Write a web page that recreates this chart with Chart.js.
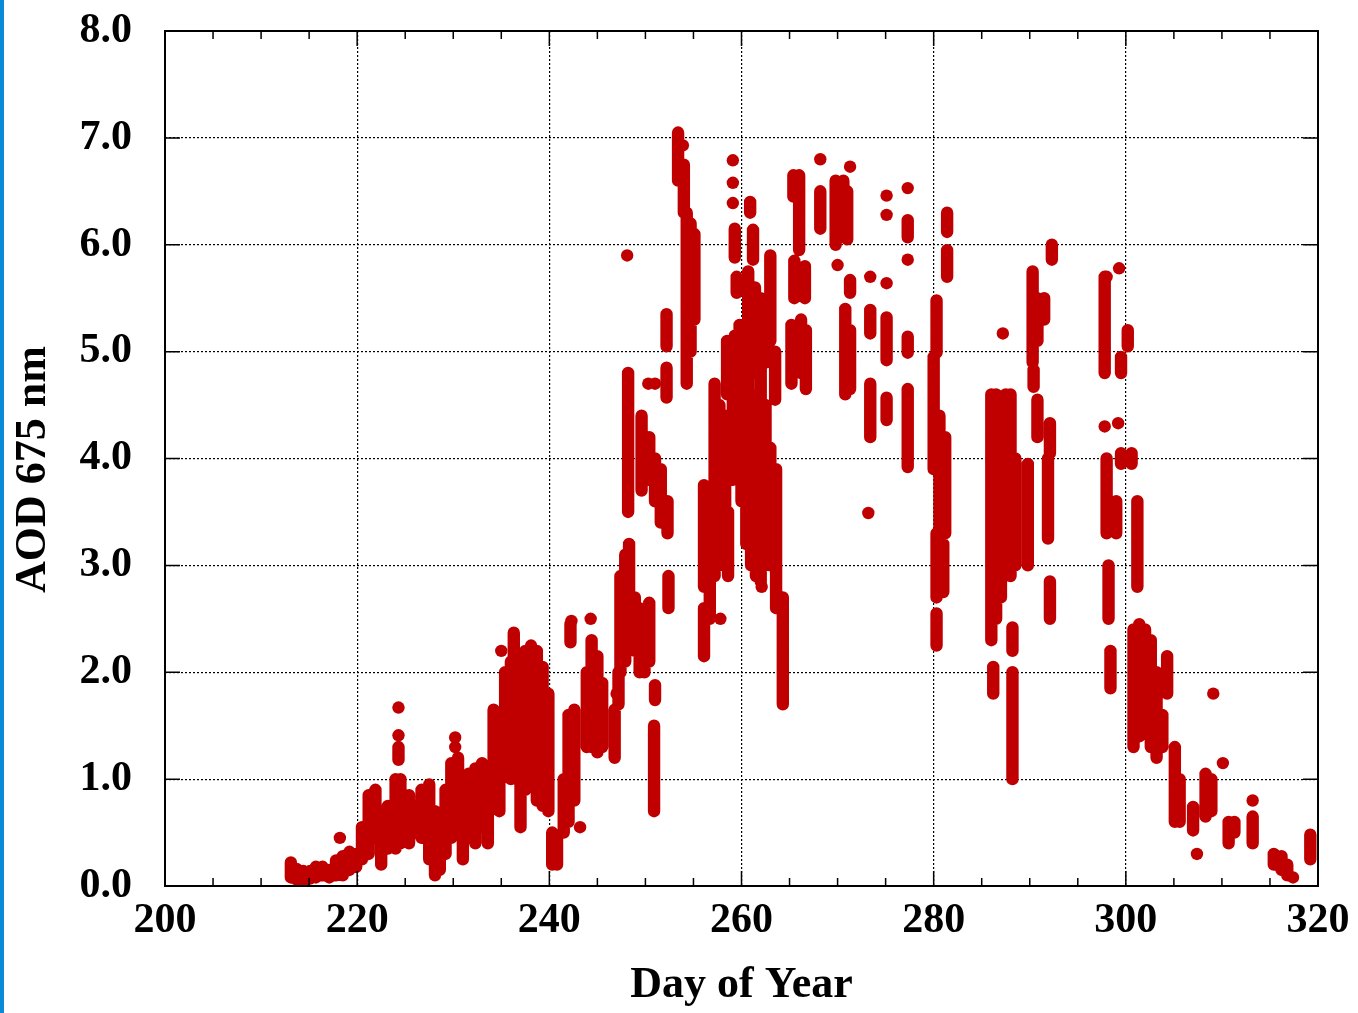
<!DOCTYPE html>
<html>
<head>
<meta charset="utf-8">
<script src="https://cdn.jsdelivr.net/npm/chart.js@4.4.1/dist/chart.umd.min.js"></script>
<style>
    body { margin: 0; background: #fff; }
    #wrap { position: relative; width: 1358px; height: 1013px; }
    #edge { position: absolute; left: 0; top: 0; width: 4px; height: 1013px; background: #0a8ad8; }
</style>
</head>
<body>
<div id="wrap">
    <canvas id="aodChart"></canvas>
    <div id="edge"></div>
</div>
<script>
'use strict'

// vertical runs of dense measurements: day, lowest AOD, highest AOD
const streakDay = [
    213.1, 213.7, 214.4, 215.1, 215.7, 216.4, 217.1, 217.8, 218.5, 219.2, 219.9,
    220.5, 221.2, 221.9, 222.5, 223.2, 224.0, 224.5, 224.3, 225.4, 226.0, 226.7, 227.5,
    228.1, 228.6, 229.2, 229.8, 230.5, 231.0, 231.6, 232.3, 233.0, 233.6,
    234.2, 234.8, 235.4, 236.0, 236.3, 237.0, 237.5, 238.1, 238.7, 239.3, 239.9, 240.3, 240.8,
    241.5, 242.0, 242.6, 242.2, 243.9, 244.4, 245.0, 245.5, 246.8, 247.2,
    247.4, 247.9, 248.2, 248.3, 248.9, 249.4, 249.9, 250.4, 249.6, 250.4, 251.0, 251.6,
    252.3, 252.4, 252.2, 250.9, 251.0, 252.2,
    253.4, 254.0, 254.3, 254.7, 255.1,
    256.1, 256.1, 256.7, 257.2, 257.7, 258.3, 258.6, 259.1, 259.3, 259.5, 258.5, 259.3, 259.8,
    260.0, 260.5, 261.0, 261.5, 262.0, 262.5, 263.0, 263.6, 264.3,
    260.9, 261.2, 260.7, 261.4, 262.0, 262.6, 263.0, 263.5,
    265.4, 266.0, 265.5, 266.6, 265.2, 266.2, 266.7, 268.2, 269.8, 270.2, 270.6, 271.0,
    271.3, 270.8, 271.3,
    273.4, 273.4, 275.1, 275.1, 277.3, 277.3, 277.3,
    281.4, 281.4, 280.3, 280.0, 280.6, 281.2, 280.3, 281.0, 280.3,
    286.0, 286.5, 287.0, 287.5, 288.0, 288.5, 286.2, 288.2, 288.2, 289.8, 290.3, 290.8,
    291.5, 292.3, 290.4, 290.8, 292.1, 291.9, 292.1,
    297.8, 298.0, 298.2, 298.4, 299.0, 299.5, 300.2, 299.5, 300.6, 301.2, 300.8, 301.4,
    302.0, 302.6, 303.2, 303.8, 304.3, 305.1, 305.6, 307.0, 308.3, 308.9, 310.7, 311.3,
    313.2, 315.4, 316.2, 316.8, 319.2
];
const streakLow = [
    0.08, 0.06, 0.04, 0.07, 0.08, 0.10, 0.08, 0.10, 0.10, 0.15, 0.18,
    0.25, 0.30, 0.45, 0.20, 0.35, 0.35, 0.40, 1.18, 0.40, 0.50, 0.45, 0.25,
    0.10, 0.15, 0.30, 0.45, 0.55, 0.25, 0.45, 0.40, 0.55, 0.40,
    0.80, 0.70, 1.10, 1.00, 1.30, 0.55, 0.90, 1.00, 0.80, 0.75, 0.70, 0.20, 0.20,
    0.50, 0.60, 0.80, 2.28, 1.30, 1.30, 1.25, 1.30, 1.20, 1.70,
    2.00, 2.10, 3.50, 2.50, 2.20, 2.00, 2.00, 2.10, 3.70, 3.80, 3.60, 3.40,
    3.30, 2.60, 5.05, 0.70, 1.74, 4.57,
    6.60, 6.30, 4.70, 5.00, 5.30,
    2.15, 2.80, 2.50, 2.90, 3.00, 3.10, 2.90, 3.80, 5.88, 5.55, 4.60, 4.55, 4.70,
    3.60, 3.20, 3.00, 2.90, 2.85, 3.00, 3.00, 2.60, 1.70,
    6.30, 5.86, 4.60, 4.80, 4.60, 4.90, 5.10, 4.55,
    6.45, 5.95, 5.50, 5.50, 4.70, 4.80, 4.65, 6.15, 6.00, 6.10, 6.20, 6.05,
    5.55, 4.60, 4.65,
    5.17, 4.20, 4.92, 4.36, 6.07, 4.99, 3.92,
    6.12, 5.70, 4.99, 3.90, 3.30, 3.30, 2.70, 2.75, 2.25,
    2.30, 2.50, 2.70, 3.00, 2.90, 3.00, 1.80, 2.20, 1.00, 3.00, 4.90, 5.10,
    5.30, 5.86, 4.67, 4.20, 4.05, 3.25, 2.50,
    4.80, 3.30, 2.50, 1.85, 3.30, 3.95, 5.05, 4.80, 3.95, 2.80, 1.30, 1.40,
    1.50, 1.30, 1.20, 1.30, 1.80, 0.60, 0.60, 0.52, 0.65, 0.70, 0.40, 0.50,
    0.40, 0.20, 0.15, 0.10, 0.25
];
const streakHigh = [
    0.22, 0.16, 0.14, 0.14, 0.18, 0.18, 0.15, 0.24, 0.28, 0.32, 0.30,
    0.55, 0.85, 0.90, 0.70, 0.75, 1.00, 1.00, 1.30, 0.85, 0.75, 0.90, 0.95,
    0.70, 0.50, 0.90, 1.15, 1.20, 0.65, 1.05, 1.10, 1.15, 0.90,
    1.65, 1.55, 2.00, 2.10, 2.37, 2.00, 2.20, 2.25, 2.20, 2.05, 1.80, 0.50, 0.45,
    1.00, 1.60, 1.65, 2.45, 2.00, 2.30, 2.15, 1.90, 1.65, 2.00,
    2.90, 3.10, 4.80, 3.20, 2.70, 2.60, 2.50, 2.65, 4.40, 4.20, 4.00, 3.90,
    3.60, 2.90, 5.35, 1.50, 1.88, 4.85,
    7.05, 6.75, 6.30, 6.20, 6.10,
    2.60, 3.75, 3.50, 4.70, 4.50, 4.40, 3.50, 4.60, 6.15, 5.70, 5.10, 5.15, 5.25,
    4.70, 4.70, 4.60, 4.55, 4.60, 4.50, 4.10, 3.90, 2.70,
    6.40, 6.14, 5.75, 5.60, 5.50, 5.20, 5.90, 5.00,
    6.65, 6.65, 5.85, 5.80, 5.25, 5.30, 5.20, 6.50, 6.60, 6.55, 6.60, 6.50,
    5.67, 5.40, 5.20,
    5.39, 4.70, 5.32, 4.57, 6.23, 5.14, 4.65,
    6.30, 5.95, 5.48, 4.95, 4.40, 4.20, 3.30, 3.20, 2.55,
    4.60, 4.60, 4.50, 4.60, 4.60, 4.00, 2.05, 2.42, 2.00, 3.95, 5.75, 5.50,
    5.50, 6.00, 4.83, 4.55, 4.33, 4.00, 2.85,
    5.70, 4.00, 3.00, 2.20, 3.60, 4.05, 5.20, 4.95, 4.05, 3.60, 2.40, 2.45,
    2.40, 2.30, 2.00, 1.60, 2.15, 1.30, 1.00, 0.74, 1.05, 1.00, 0.60, 0.60,
    0.65, 0.30, 0.28, 0.20, 0.48
];

// isolated measurements
const dotDay = [
    218.2, 224.3, 224.3, 230.2, 230.2, 235.0, 242.3, 243.2, 244.3, 247.0,
    248.1, 250.3, 251.0, 253.9, 257.8, 259.1, 259.1, 259.1, 262.1, 268.2,
    271.3, 270.0, 273.4, 273.2, 275.1, 275.1, 275.1, 277.3, 277.3, 287.2,
    297.8, 299.3, 298.0, 299.2, 307.4, 309.1, 310.1, 313.2, 317.4
];
const dotAod = [
    0.45, 1.67, 1.41, 1.39, 1.30, 2.20, 2.48, 0.55, 2.50, 1.80,
    5.90, 4.70, 4.70, 6.93, 2.50, 6.79, 6.58, 6.39, 2.80, 6.80,
    6.73, 5.81, 5.70, 3.49, 6.46, 6.28, 5.64, 6.53, 5.86, 5.17,
    4.30, 5.78, 5.70, 4.33, 0.30, 1.80, 1.15, 0.80, 0.08
];

const xTickValues = [200, 220, 240, 260, 280, 300, 320];
const yTickValues = [0, 1, 2, 3, 4, 5, 6, 7, 8];

const red = 'rgb(192, 0, 0)';
const serif = 'Liberation Serif';

document.addEventListener("DOMContentLoaded", () => {
    const canvas = document.getElementById("aodChart");

    const streakPoints = [];
    streakDay.forEach((d, i) => {
        streakPoints.push({x: d, y: streakLow[i]});
        streakPoints.push({x: d, y: streakHigh[i]});
        streakPoints.push({x: d, y: null});
    });
    const dotPoints = dotDay.map((d, i) => ({x: d, y: dotAod[i]}));

    // frame round the plot plus inward tick marks on all four sides
    const frameTicks = {
        id: 'frameTicks',
        afterDatasetsDraw(chart) {
            const {ctx, chartArea: a, scales: {x, y}} = chart;
            ctx.save();
            ctx.strokeStyle = '#000';
            ctx.lineWidth = 1.5;
            ctx.beginPath();
            for (let d = xTickValues[0]; d <= xTickValues[xTickValues.length - 1]; d += 5) {
                const px = x.getPixelForValue(d);
                const len = xTickValues.includes(d) ? 15 : 8;
                ctx.moveTo(px, a.bottom); ctx.lineTo(px, a.bottom - len);
                ctx.moveTo(px, a.top); ctx.lineTo(px, a.top + len);
            }
            yTickValues.forEach(v => {
                const py = y.getPixelForValue(v);
                ctx.moveTo(a.left, py); ctx.lineTo(a.left + 15, py);
                ctx.moveTo(a.right, py); ctx.lineTo(a.right - 15, py);
            });
            ctx.stroke();
            ctx.lineWidth = 2;
            ctx.strokeRect(a.left, a.top, a.right - a.left, a.bottom - a.top);
            ctx.restore();
        }
    };

    new Chart(canvas, {
        type: 'scatter',
        data: {
            datasets: [{
                data: streakPoints,
                showLine: true,
                spanGaps: false,
                borderColor: red,
                borderWidth: 12.4,
                borderCapStyle: 'round',
                borderJoinStyle: 'round',
                pointRadius: 0,
                pointHitRadius: 0
            }, {
                data: dotPoints,
                backgroundColor: red,
                borderWidth: 0,
                pointRadius: 6.2
            }]
        },
        options: {
            responsive: true,
            maintainAspectRatio: false,
            animation: false,
            layout: {padding: {left: 0, right: 40, top: 31, bottom: 0}},
            plugins: {legend: {display: false}, tooltip: {enabled: false}},
            scales: {
                x: {
                    type: 'linear',
                    min: 200,
                    max: 320,
                    afterBuildTicks: s => { s.ticks = xTickValues.map(v => ({value: v})); },
                    afterFit: s => {
                        s.height = 127;
                        s.paddingLeft = 0;
                        s.paddingRight = 0;
                    },
                    grid: {color: '#000', lineWidth: 1.2, drawTicks: false},
                    border: {display: false, dash: [2, 2]},
                    ticks: {
                        color: '#000',
                        padding: 10,
                        maxRotation: 0,
                        autoSkip: false,
                        font: {family: serif, size: 42, weight: 'bold'}
                    },
                    title: {
                        display: true,
                        text: 'Day of Year',
                        color: '#000',
                        padding: {top: 0, bottom: 1},
                        font: {family: serif, size: 44, weight: 'bold'}
                    }
                },
                y: {
                    min: 0,
                    max: 8,
                    afterBuildTicks: s => { s.ticks = yTickValues.map(v => ({value: v})); },
                    afterFit: s => {
                        s.width = 165;
                        s.paddingTop = 0;
                        s.paddingBottom = 0;
                    },
                    grid: {color: '#000', lineWidth: 1.2, drawTicks: false},
                    border: {display: false, dash: [2, 2]},
                    ticks: {
                        color: '#000',
                        padding: 33,
                        callback: v => v.toFixed(1),
                        font: {family: serif, size: 42, weight: 'bold'}
                    },
                    title: {
                        display: true,
                        text: 'AOD 675 nm  ',
                        color: '#000',
                        padding: {top: 7, bottom: 0},
                        font: {family: serif, size: 44, weight: 'bold'}
                    }
                }
            }
        },
        plugins: [frameTicks]
    });
});
</script>
</body>
</html>
